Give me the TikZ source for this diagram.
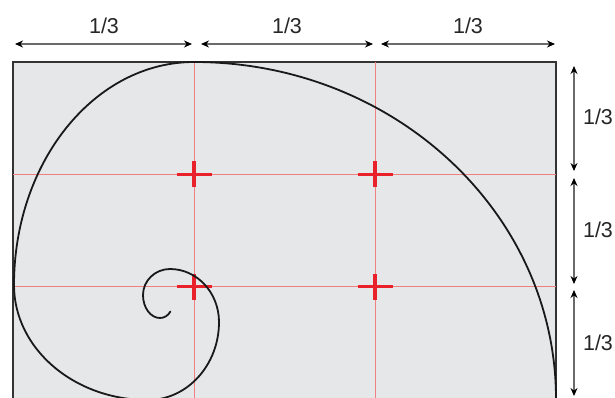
\documentclass[tikz,border=0pt]{standalone}
\usepackage{fontspec}
\setmainfont{Liberation Sans}
\usetikzlibrary{arrows.meta}
\definecolor{bgfill}{HTML}{E6E7E9}
\definecolor{gridred}{HTML}{F08080}
\definecolor{crossred}{HTML}{E8212B}
\definecolor{shaft}{HTML}{6A6A6A}
\definecolor{framecol}{HTML}{333333}
\begin{document}
\begin{tikzpicture}[x=1pt,y=1pt,
  dimarrow/.style={draw=shaft, line width=1.1pt,
    {Stealth[length=8pt,width=7pt,color=black]}-{Stealth[length=8pt,width=7pt,color=black]}},
  lbl/.style={font=\fontsize{21.5}{25}\selectfont, inner sep=0pt, text=black!85},
  framebox/.style={draw=framecol, fill=bgfill, line width=2pt},
  thirdline/.style={draw=gridred, line width=0.9pt},
  crossmark/.style={draw=crossred, line width=3.2pt},
  spiral/.style={draw=black!90, line width=1.8pt, line cap=round}]
\useasboundingbox (0,0) rectangle (615,397);
% frame
\coordinate (tl) at (13,335);
\coordinate (br) at (556,-2);
\draw[framebox] (tl) rectangle (br);
% thirds lines
\coordinate (v1t) at (194,335); \coordinate (v1b) at (194,-2);
\coordinate (v2t) at (375,335); \coordinate (v2b) at (375,-2);
\coordinate (h1l) at (13,222.7); \coordinate (h1r) at (556,222.7);
\coordinate (h2l) at (13,110.3); \coordinate (h2r) at (556,110.3);
\draw[thirdline] (v1t) -- (v1b) (v2t) -- (v2b) (h1l) -- (h1r) (h2l) -- (h2r);
% crosses
\coordinate (c1) at (194,222.7);
\coordinate (c2) at (375,222.7);
\coordinate (c3) at (194,110.3);
\coordinate (c4) at (375,110.3);
\foreach \c in {c1,c2,c3,c4}{
  \draw[crossmark] ([xshift=-17.5pt]\c) -- ([xshift=17.5pt]\c)
                   ([yshift=-13pt]\c) -- ([yshift=13pt]\c);
}
% spiral
\coordinate (sp0) at (556,-2);
\draw[spiral] (sp0)
  arc[start angle=0,end angle=90,x radius=362,y radius=337]
  arc[start angle=90,end angle=180,x radius=180,y radius=223]
  arc[start angle=180,end angle=270,x radius=134,y radius=115]
  arc[start angle=270,end angle=360,x radius=71,y radius=78]
  arc[start angle=0,end angle=90,x radius=49,y radius=53]
  arc[start angle=90,end angle=180,x radius=27,y radius=26]
  arc[start angle=180,end angle=270,x radius=17,y radius=23]
  arc[start angle=270,end angle=330,x radius=12,y radius=13];
% top dimension arrows
\coordinate (ta1) at (15,353);  \coordinate (tb1) at (192,353);
\coordinate (ta2) at (201,353); \coordinate (tb2) at (373,353);
\coordinate (ta3) at (381,353); \coordinate (tb3) at (555,353);
\draw[dimarrow] (ta1) -- (tb1);
\draw[dimarrow] (ta2) -- (tb2);
\draw[dimarrow] (ta3) -- (tb3);
\node[lbl] (lt1) at (104,371) {1/3};
\node[lbl] (lt2) at (287,371) {1/3};
\node[lbl] (lt3) at (468,371) {1/3};
% right dimension arrows
\coordinate (ra1) at (574,331); \coordinate (rb1) at (574,226);
\coordinate (ra2) at (574,219); \coordinate (rb2) at (574,113);
\coordinate (ra3) at (574,107); \coordinate (rb3) at (574,1);
\draw[dimarrow] (ra1) -- (rb1);
\draw[dimarrow] (ra2) -- (rb2);
\draw[dimarrow] (ra3) -- (rb3);
\node[lbl] (lr1) at (598,280) {1/3};
\node[lbl] (lr2) at (598,167) {1/3};
\node[lbl] (lr3) at (598,54) {1/3};
\end{tikzpicture}
\end{document}
